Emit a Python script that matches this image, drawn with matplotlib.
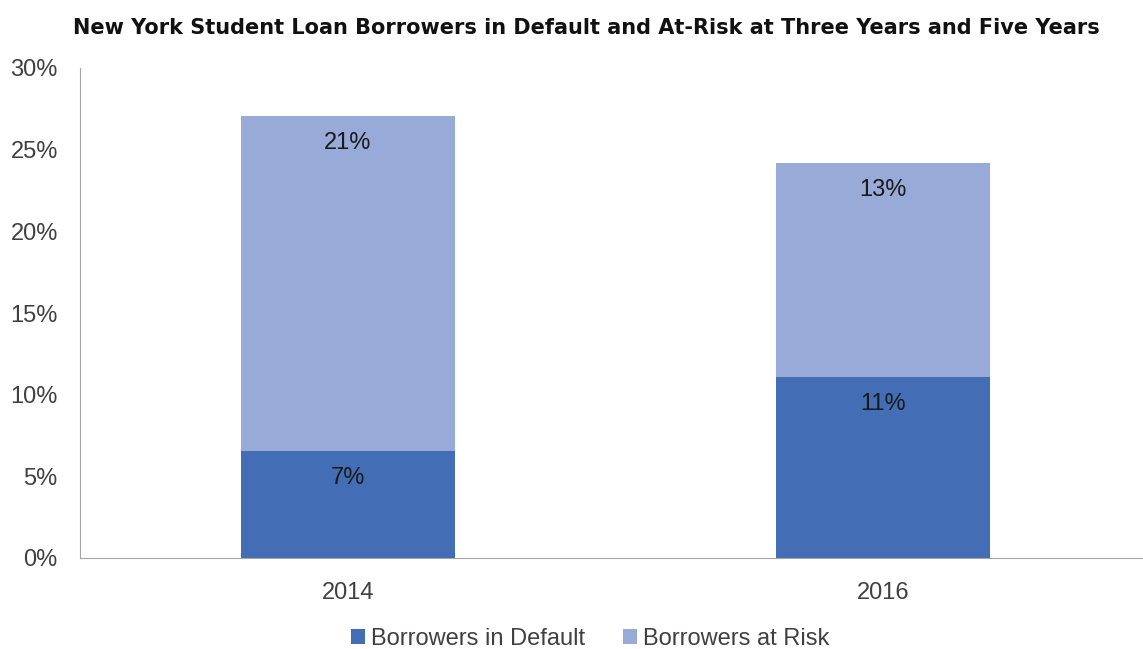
import numpy as np
import matplotlib.pyplot as plt

years = ["2014", "2016"]
in_default = [0.0655, 0.1108]
at_risk = [0.2051, 0.1311]
default_labels = ["7%", "11%"]
risk_labels = ["21%", "13%"]

c_default = "#436EB5"
c_risk = "#97AAD8"

plt.rcParams['font.family'] = ['Liberation Sans', 'DejaVu Sans']

fig = plt.figure(figsize=(11.43, 6.49), dpi=100)
ax = fig.add_axes([80/1143, 1-558/649, 1-80/1143, (558-68)/649])

x = np.arange(len(years))
b1 = ax.bar(x, in_default, width=0.4, color=c_default, label="Borrowers in Default")
b2 = ax.bar(x, at_risk, width=0.4, bottom=in_default, color=c_risk, label="Borrowers at Risk")

for i in range(len(years)):
	ax.annotate(default_labels[i], (x[i], in_default[i]), xytext=(0, -27), textcoords="offset pixels",
		ha="center", va="center", fontsize=17, color="#1a1a1a")
	ax.annotate(risk_labels[i], (x[i], in_default[i]+at_risk[i]), xytext=(0, -27), textcoords="offset pixels",
		ha="center", va="center", fontsize=17, color="#1a1a1a")

ax.set_xlim(-0.5, 1.485)
ax.set_ylim(0, 0.30)
ax.set_yticks(np.arange(0, 0.31, 0.05))
ax.set_yticklabels([f"{int(round(v*100))}%" for v in np.arange(0, 0.31, 0.05)])
ax.set_xticks(x)
ax.set_xticklabels(years)
ax.tick_params(axis="both", length=0, labelsize=17, labelcolor="#404040")
ax.tick_params(axis="x", pad=17)
ax.tick_params(axis="y", pad=16)

for s in ["top", "right"]:
	ax.spines[s].set_visible(False)
for s in ["left", "bottom"]:
	ax.spines[s].set_color("#a6a6a6")

fig.text(586/1143, 1-28/649, "New York Student Loan Borrowers in Default and At-Risk at Three Years and Five Years",
	ha="center", va="center", fontsize=15, fontweight="bold",
	family=['DejaVu Sans'], color="#111111")

fig.legend(handles=[b1, b2], loc="center", bbox_to_anchor=(590/1143, 1-639/649), ncol=2, frameon=False,
	fontsize=17, handlelength=0.6, handleheight=0.6, handletextpad=0.25, columnspacing=1.6,
	labelcolor="#404040")

fig.savefig("out.png", dpi=100)
